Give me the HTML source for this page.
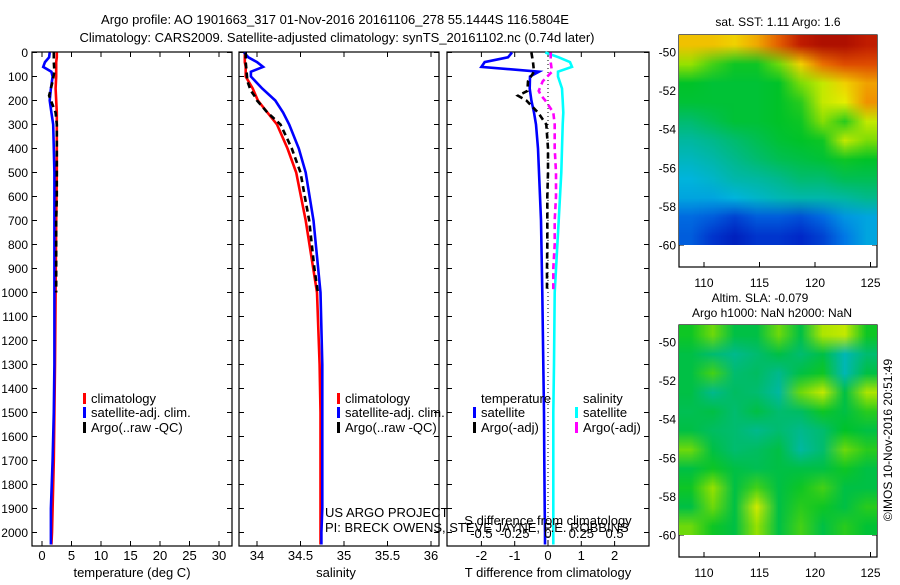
<!DOCTYPE html>
<html><head><meta charset="utf-8">
<style>
body{margin:0;background:#fff;width:900px;height:580px;overflow:hidden}
svg{font-family:"Liberation Sans",sans-serif;font-size:13px}
text{fill:#000}
</style></head>
<body>
<svg id="fig" width="900" height="580" viewBox="0 0 900 580">
<text x="335" y="24" text-anchor="middle">Argo profile: AO 1901663_317 01-Nov-2016 20161106_278 55.1444S 116.5804E</text>
<text x="337" y="42" text-anchor="middle">Climatology: CARS2009. Satellite-adjusted climatology: synTS_20161102.nc (0.74d later)</text>
<text x="778" y="26" text-anchor="middle" font-size="12">sat. SST: 1.11 Argo: 1.6</text>
<text x="760" y="302" text-anchor="middle" font-size="12">Altim. SLA: -0.079</text>
<text x="772" y="317" text-anchor="middle" font-size="12">Argo h1000: NaN h2000: NaN</text>
<text transform="translate(892,440) rotate(-90)" text-anchor="middle" font-size="12">©IMOS 10-Nov-2016 20:51:49</text>
<g id="g"></g>
</svg>
<canvas id="c1" width="9" height="11" style="position:absolute;left:679px;top:35px;width:198px;height:210px"></canvas>
<canvas id="c2" width="9" height="11" style="position:absolute;left:679px;top:325px;width:198px;height:210px"></canvas>
<script>
// depth axis
const depthTicks=[0,100,200,300,400,500,600,700,800,900,1000,1100,1200,1300,1400,1500,1600,1700,1800,1900,2000];
// temperature panel
const tDepth=[0,20,40,60,80,100,150,200,250,300,400,500,700,1000,1300,1500,1700,1900,2000,2050];
const tClim=[2.5,2.5,2.4,2.4,2.4,2.4,2.3,2.4,2.5,2.5,2.5,2.5,2.4,2.3,2.2,2.1,2.0,1.8,1.7,1.6];
const tSat=[1.3,1.2,0.5,0.2,1.6,1.8,1.5,1.3,1.6,1.9,2.0,2.1,2.1,2.1,2.1,2.0,1.8,1.5,1.5,1.5];
const aDepth=[0,40,80,120,160,180,200,250,300,400,500,600,700,800,900,1000];
const tArgo=[2.0,2.0,2.1,1.8,1.4,1.2,1.5,2.3,2.5,2.5,2.5,2.5,2.4,2.4,2.4,2.4];
// salinity panel
const sClim=[33.86,33.86,33.86,33.87,33.87,33.87,33.95,34.01,34.12,34.23,34.35,34.45,34.56,34.69,34.72,34.73,34.73,34.73,34.73,34.73];
const sSat=[33.85,33.9,34.0,34.07,33.93,33.93,34.06,34.21,34.3,34.37,34.48,34.56,34.65,34.73,34.75,34.75,34.75,34.75,34.74,34.74];
const sArgo=[33.87,33.87,33.88,33.89,33.93,33.97,34.0,34.12,34.27,34.4,34.5,34.55,34.6,34.63,34.66,34.7];
// difference panel
const dtSat=[-1.08,-1.2,-1.9,-2.0,-0.27,-0.54,-0.55,-0.5,-0.42,-0.36,-0.3,-0.27,-0.21,-0.17,-0.14,-0.12,-0.11,-0.1,-0.09,-0.09];
const dtArgo=[-0.5,-0.45,-0.42,-0.6,-0.62,-0.9,-0.65,-0.3,-0.05,0,0,-0.02,-0.02,-0.02,-0.03,-0.03];
const dsSat=[-0.02,0.08,0.165,0.18,0.075,0.075,0.105,0.11,0.115,0.11,0.105,0.1,0.08,0.05,0.045,0.04,0.04,0.04,0.04,0.04];
const dsArgo=[0.02,0.02,0.03,-0.04,-0.07,-0.05,-0.02,0.04,0.05,0.05,0.06,0.06,0.05,0.05,0.04,0.04];
const tTicks=[0,5,10,15,20,25,30];
const sTicks=[34,34.5,35,35.5,36];
const dTicks=[-2,-1,0,1,2];
const dsTicks=[-0.5,-0.25,0,0.25,0.5];
const latTicks=[-50,-52,-54,-56,-58,-60];
const lonTicks=[110,115,120,125];
// map grids (color index 0..1), rows lat -49.5..-59.5, cols lon 108..125
const sstGrid=[
[0.72,0.72,0.70,0.75,0.84,0.93,0.96,0.96,0.93],
[0.58,0.52,0.48,0.48,0.55,0.70,0.82,0.86,0.86],
[0.47,0.46,0.46,0.46,0.47,0.56,0.62,0.70,0.76],
[0.46,0.46,0.46,0.46,0.47,0.50,0.62,0.65,0.78],
[0.42,0.44,0.46,0.46,0.47,0.48,0.57,0.50,0.62],
[0.38,0.40,0.42,0.44,0.46,0.47,0.48,0.62,0.56],
[0.35,0.37,0.40,0.42,0.44,0.45,0.46,0.48,0.47],
[0.32,0.34,0.37,0.38,0.40,0.42,0.42,0.44,0.44],
[0.30,0.30,0.32,0.34,0.36,0.37,0.37,0.38,0.40],
[0.22,0.20,0.16,0.20,0.20,0.18,0.22,0.28,0.30],
[0.20,0.14,0.10,0.14,0.14,0.12,0.16,0.24,0.30]];
const slaGrid=[
[0.48,0.55,0.45,0.45,0.55,0.45,0.60,0.62,0.48],
[0.45,0.42,0.40,0.42,0.45,0.42,0.45,0.36,0.42],
[0.45,0.52,0.42,0.43,0.40,0.45,0.48,0.36,0.45],
[0.45,0.40,0.43,0.42,0.38,0.55,0.62,0.45,0.60],
[0.44,0.45,0.42,0.45,0.42,0.43,0.48,0.45,0.50],
[0.45,0.43,0.42,0.40,0.42,0.40,0.42,0.47,0.45],
[0.55,0.45,0.42,0.43,0.45,0.38,0.42,0.55,0.50],
[0.45,0.48,0.45,0.44,0.45,0.45,0.45,0.48,0.45],
[0.48,0.58,0.45,0.52,0.45,0.48,0.52,0.45,0.45],
[0.45,0.55,0.45,0.63,0.45,0.50,0.48,0.45,0.50],
[0.55,0.48,0.45,0.58,0.45,0.52,0.45,0.50,0.46]];

const NS='http://www.w3.org/2000/svg';
const G=document.getElementById('g');
function mk(tag,at,parent){const e=document.createElementNS(NS,tag);for(const k in at)e.setAttribute(k,at[k]);(parent||G).appendChild(e);return e;}
const Y0=52.5,YS=0.24;
const yD=d=>Y0+d*YS;
const xT=v=>42+v*5.9;
const xS=v=>257+(v-34)*87;
const xDT=v=>548+v*33.3;
const xDS=v=>548+v*133.2;

function frame(x0,x1,name){
  const r=mk('rect',{x:x0,y:52,width:x1-x0,height:494,fill:'none',stroke:'#000','stroke-width':1.2});
  
  
  depthTicks.forEach(d=>{mk('line',{x1:x0,x2:x0+5,y1:yD(d),y2:yD(d),stroke:'#000'});mk('line',{x1:x1,x2:x1-5,y1:yD(d),y2:yD(d),stroke:'#000'});});
}
function xticks(ticks,f,y,lbl){
  ticks.forEach(v=>{const x=f(v);mk('line',{x1:x,x2:x,y1:546,y2:541,stroke:'#000'});mk('line',{x1:x,x2:x,y1:52,y2:57,stroke:'#000'});
    if(lbl){const t=mk('text',{x:x,y:y,'text-anchor':'middle'});t.textContent=String(v);
    
    }});
}
function line(depths,vals,f,color,name,dash,w){
  const p=mk('polyline',{points:vals.map((v,i)=>f(v).toFixed(1)+','+yD(depths[i]).toFixed(1)).join(' '),fill:'none',stroke:color,'stroke-width':w||2.6,'stroke-dasharray':dash||'none'});
  
  
}
function txt(x,y,s,name,anchor,size){const t=mk('text',{x:x,y:y,'text-anchor':anchor||'start'});if(size)t.setAttribute('font-size',size);t.textContent=s;
  
  return t;}
function legend(x,y,color,s,name){
  const m=mk('rect',{x:x,y:y-10,width:3,height:11,fill:color});
  
  
  txt(x+8,y,s,name);
}

depthTicks.forEach(d=>{txt(28,yD(d)+4.5,String(d),'y-tick-label','end',12);});

frame(32,232,'temperature-panel');
xticks(tTicks,xT,560,true);
line(tDepth,tClim,xT,'#f00','temp-climatology-line');
line(tDepth,tSat,xT,'#00f','temp-satellite-line');
line(aDepth,tArgo,xT,'#000','temp-argo-line','6,4');
txt(132,577,'temperature (deg C)','x-axis-title-temperature','middle');
legend(83,403,'#f00','climatology','legend-climatology-t');
legend(83,417,'#00f','satellite-adj. clim.','legend-satellite-t');
legend(83,432,'#000','Argo(..raw -QC)','legend-argo-t');

frame(239,439,'salinity-panel');
xticks(sTicks,xS,560,true);
line(tDepth,sClim,xS,'#f00','sal-climatology-line');
line(tDepth,sSat,xS,'#00f','sal-satellite-line');
line(aDepth,sArgo,xS,'#000','sal-argo-line','6,4');
txt(336,577,'salinity','x-axis-title-salinity','middle');
legend(337,403,'#f00','climatology','legend-climatology-s');
legend(337,417,'#00f','satellite-adj. clim.','legend-satellite-s');
legend(337,432,'#000','Argo(..raw -QC)','legend-argo-s');

frame(447,649,'difference-panel');
xticks(dTicks,xDT,560,true);
mk('line',{x1:548,x2:548,y1:52,y2:546,stroke:'#000','stroke-dasharray':'1,3'});
line(tDepth,dtSat,xDT,'#00f','tdiff-satellite-line');
line(tDepth,dsSat,xDS,'#0ff','sdiff-satellite-line');
line(aDepth,dtArgo,xDT,'#000','tdiff-argo-line','6,4');
line(aDepth,dsArgo,xDS,'#f0f','sdiff-argo-line','6,4');
txt(548,577,'T difference from climatology','x-axis-title-tdiff','middle');
txt(481,403,'temperature','legend-header-temperature');
txt(583,403,'salinity','legend-header-salinity');
legend(473,417,'#00f','satellite','legend-tdiff-satellite');
legend(473,432,'#000','Argo(-adj)','legend-tdiff-argo');
legend(575,417,'#0ff','satellite','legend-sdiff-satellite');
legend(575,432,'#f0f','Argo(-adj)','legend-sdiff-argo');
txt(548,525,'S difference from climatology','sdiff-axis-title','middle');
dsTicks.forEach(v=>{txt(xDS(v),538,String(v),'sdiff-tick-label','middle');});
txt(325,517,'US ARGO PROJECT','project-credit');
txt(325,532,'PI: BRECK OWENS, STEVE JAYNE, P.E. ROBBINS','pi-credit');

const cmap=[[0,[0,0,140]],[0.12,[0,40,200]],[0.24,[0,120,230]],[0.32,[0,180,220]],[0.4,[0,185,140]],[0.47,[0,195,40]],[0.58,[150,225,0]],[0.66,[240,240,0]],[0.8,[240,130,0]],[0.9,[210,40,0]],[1,[150,0,0]]];
function col(v){for(let i=1;i<cmap.length;i++){if(v<=cmap[i][0]){const a=cmap[i-1],b=cmap[i],t=(v-a[0])/(b[0]-a[0]);return a[1].map((c,k)=>Math.round(c+(b[1][k]-c)*t));}}return cmap[cmap.length-1][1];}
function drawMap(id,grid){const c=document.getElementById(id),ctx=c.getContext('2d');const im=ctx.createImageData(9,11);
  grid.forEach((row,r)=>row.forEach((v,k)=>{const cc=col(v),o=(r*9+k)*4;im.data[o]=cc[0];im.data[o+1]=cc[1];im.data[o+2]=cc[2];im.data[o+3]=255;}));ctx.putImageData(im,0,0);}
drawMap('c1',sstGrid);drawMap('c2',slaGrid);

function mapFrame(top,name){
  const r=mk('rect',{x:679,y:top,width:198,height:232,fill:'none',stroke:'#000','stroke-width':1.2});
  
  
  const ly=v=>top+17+(-50-v)*19.3;
  const lx=v=>704+(v-110)*11.1;
  latTicks.forEach(v=>{const y=ly(v);mk('line',{x1:679,x2:684,y1:y,y2:y,stroke:'#000'});mk('line',{x1:877,x2:872,y1:y,y2:y,stroke:'#000'});txt(676,y+4.5,String(v),'lat-tick-label','end',12);});
  lonTicks.forEach(v=>{const x=lx(v);mk('line',{x1:x,x2:x,y1:top+232,y2:top+227,stroke:'#000'});mk('line',{x1:x,x2:x,y1:top,y2:top+5,stroke:'#000'});txt(x,top+252,String(v),'lon-tick-label','middle',12);});
}
mapFrame(35,'sst-map-frame');
mapFrame(325,'sla-map-frame');
</script>
</body></html>
